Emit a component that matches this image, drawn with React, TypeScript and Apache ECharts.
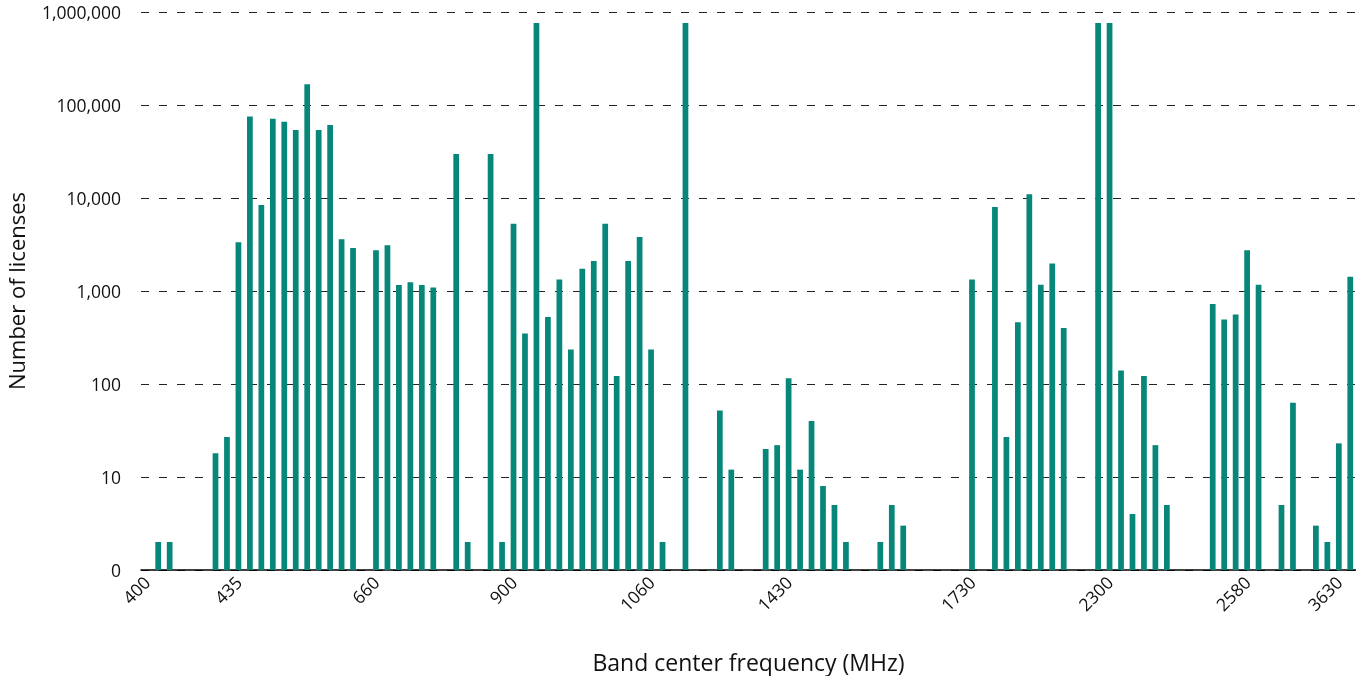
import React, { useEffect, useRef } from "react";
import * as echarts from "echarts";

// Tick labels on the band axis and the category index where each one sits
const tickLabels: string[] = ["400", "435", "660", "900", "1060", "1430", "1730", "2300", "2580", "3630"];
const tickPositions: number[] = [0, 8, 20, 32, 44, 56, 72, 84, 96, 104];

// Number of licenses per band (null = no bar), 106 bands in order
const licenses: (number | null)[] = [
  null, 2, 2, null, null, null, 18, 27, 3350, 75000,
  8400, 71000, 66000, 54000, 167000, 54000, 61000, 3600, 2900, null,
  2750, 3100, 1160, 1240, 1160, 1090, null, 29700, 2, null,
  29700, 2, 5300, 350, 760000, 525, 1330, 235, 1740, 2100,
  5300, 122, 2100, 3800, 235, 2, null, 760000, null, null,
  52, 12, null, null, 20, 22, 115, 12, 40, 8,
  5, 2, null, null, 2, 5, 3, null, null, null,
  null, null, 1330, null, 8000, 27, 460, 11000, 1170, 1980,
  400, null, null, 760000, 760000, 140, 4, 122, 22, 5,
  null, null, null, 725, 495, 560, 2750, 1170, null, 5,
  63, null, 3, 2, 23, 1420,
];

const categories: string[] = licenses.map((_, i) => {
  const k = tickPositions.indexOf(i);
  return k >= 0 ? tickLabels[k] : "band " + i;
});

const FONT = "'Open Sans', 'Noto Sans', sans-serif";

export default function App() {
  const ref = useRef<HTMLDivElement>(null);
  useEffect(() => {
    if (!ref.current) return;
    const chart = echarts.init(ref.current, undefined, { renderer: "svg" });
    chart.setOption({
      animation: false,
      grid: {
        left: 141,
        right: 0,
        top: 12,
        bottom: 106,
        containLabel: false,
        outerBoundsMode: "none",
      },
      xAxis: {
        type: "category",
        data: categories,
        boundaryGap: true,
        name: "Band center frequency (MHz)",
        nameLocation: "middle",
        nameGap: 80,
        nameTextStyle: { fontFamily: FONT, fontSize: 23, color: "#111" },
        axisLine: { show: true, lineStyle: { color: "#000", width: 1.5 } },
        axisTick: { show: false },
        axisLabel: {
          interval: (i: number) => tickPositions.includes(i),
          rotate: 45,
          margin: 9,
          fontFamily: FONT,
          fontSize: 17.5,
          color: "#111",
        },
        splitLine: { show: false },
      },
      yAxis: {
        type: "log",
        logBase: 10,
        min: 1,
        max: 1000000,
        name: "Number of licenses",
        nameLocation: "middle",
        nameGap: 114,
        nameRotate: 90,
        nameTextStyle: { fontFamily: FONT, fontSize: 22, color: "#111" },
        axisLine: { show: false },
        axisTick: { show: false },
        axisLabel: {
          margin: 20,
          fontFamily: FONT,
          fontSize: 17.5,
          color: "#111",
          formatter: (v: number) => (v === 1 ? "0" : Math.round(v).toLocaleString("en-US")),
        },
        splitLine: {
          show: true,
          lineStyle: { color: "#222", width: 1, type: [8, 10] },
        },
      },
      series: [
        {
          type: "bar",
          data: licenses,
          barWidth: "50%",
          itemStyle: { color: "#07877a" },
        },
      ],
    });
    return () => chart.dispose();
  }, []);
  return (
    <div
      ref={ref}
      style={{ position: "fixed", left: 0, top: 0, width: 1356, height: 676 }}
    />
  );
}
